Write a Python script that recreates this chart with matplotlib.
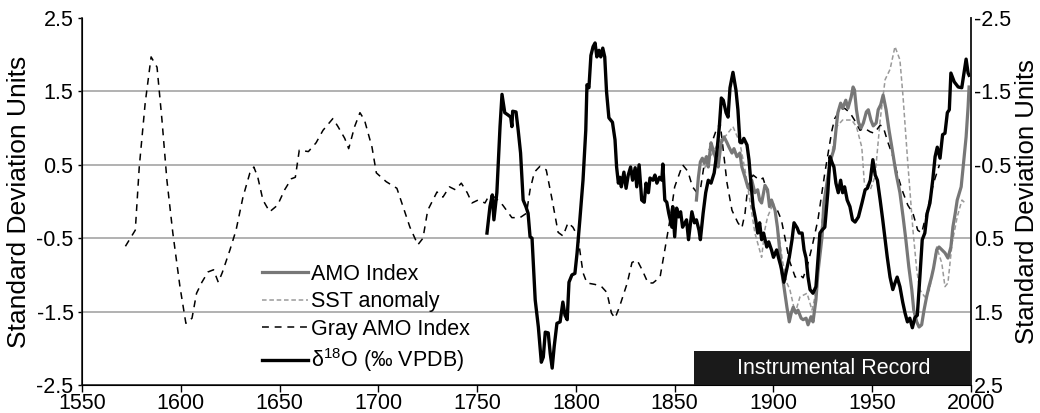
import numpy as np
import matplotlib
matplotlib.use("Agg")
import matplotlib.pyplot as plt

# Values (left axis units, standard deviations)

gray_amo_years = [1572, 1577, 1579, 1582, 1585, 1588, 1590.5, 1593, 1596, 1599.6, 1602.6, 1605.7,
                  1608, 1610.7, 1613.8, 1616.6, 1619, 1621, 1624.9, 1628, 1631.5, 1635, 1637, 1639,
                  1641.6, 1645, 1649, 1652.6, 1656, 1658, 1660, 1664.6, 1668.5, 1672, 1677, 1679.6,
                  1683, 1685, 1688, 1690.7, 1693, 1696.8, 1699, 1704, 1709.4, 1712.5, 1716, 1720,
                  1722.6, 1725, 1729.7, 1732.7, 1736, 1739, 1742, 1745, 1747.4, 1750.5, 1754, 1755.6,
                  1759, 1763, 1767.6, 1771.7, 1775, 1776.8, 1779, 1781.8, 1785, 1788, 1791, 1793.5,
                  1796, 1798.5, 1801, 1803.6, 1805.6, 1809.7, 1813, 1815.7, 1818, 1819.8, 1822, 1826,
                  1828.4, 1831, 1833.5, 1836.5, 1839, 1842.6, 1845, 1847.6, 1850, 1854, 1856.7, 1859,
                  1861, 1863, 1865, 1868, 1871, 1873, 1874.6, 1876.5, 1879, 1882, 1884, 1885.6, 1887,
                  1889.7, 1893, 1894.7, 1897, 1899.8, 1902, 1904, 1906, 1908, 1911, 1913.4, 1915,
                  1917, 1919.5, 1922.5, 1926, 1929.6, 1931, 1933.7, 1936, 1938.7, 1941, 1943.8, 1946,
                  1948.9, 1951, 1954, 1955.5, 1958, 1960.5, 1963, 1965.6, 1968, 1970.6, 1973, 1975,
                  1978, 1981, 1984]
gray_amo_vals = [-0.61, -0.39, 0.47, 1.34, 1.97, 1.83, 1.11, 0.29, -0.43, -1.16, -1.66, -1.59,
                 -1.25, -1.10, -0.96, -0.93, -1.10, -0.97, -0.66, -0.39, 0.06, 0.39, 0.47, 0.33,
                 0.02, -0.14, -0.05, 0.16, 0.31, 0.33, 0.70, 0.68, 0.80, 0.97, 1.13, 1.02,
                 0.86, 0.72, 1.02, 1.21, 1.11, 0.74, 0.39, 0.27, 0.18, -0.07, -0.35, -0.59,
                 -0.50, -0.12, 0.13, 0.06, 0.20, 0.16, 0.25, 0.12, -0.02, 0.02, -0.02, 0.06,
                 0.06, -0.05, -0.22, -0.22, -0.16, 0.16, 0.40, 0.48, 0.43, 0.02, -0.42, -0.47,
                 -0.29, -0.35, -0.48, -0.97, -1.11, -1.13, -1.16, -1.24, -1.52, -1.59, -1.44, -1.11,
                 -0.83, -0.80, -0.93, -1.11, -1.11, -1.03, -0.66, -0.25, 0.20, 0.50, 0.41, 0.20,
                 0.13, 0.16, 0.52, 0.74, 0.97, 1.07, 0.70, 0.25, -0.12, -0.29, -0.36, -0.16, 0.20,
                 0.36, 0.29, 0.32, 0.12, -0.07, -0.12, -0.25, -0.52, -0.80, -1.03, -1.00, -1.04,
                 -0.89, -0.62, -0.25, 0.39, 0.97, 1.13, 1.25, 1.27, 1.21, 1.11, 0.97, 1.00,
                 0.95, 0.93, 1.04, 1.02, 0.80, 0.61, 0.34, 0.12, -0.05, -0.16, -0.39, -0.43,
                 -0.10, 0.25, 0.50]

d18o_years = [1755, 1756.5, 1757.7, 1758.5, 1760, 1760.7, 1761.6, 1762.6, 1764, 1765.6, 1767,
              1767.6, 1768, 1769.7, 1770.8, 1772, 1773.3, 1774.7, 1775.8, 1776.8, 1777.8, 1779.4,
              1781, 1782.5, 1783.5, 1784.5, 1786, 1787, 1788, 1789, 1790.4, 1792, 1793.4, 1794.5,
              1795.6, 1796.5, 1798, 1799.5, 1800.6, 1802, 1803.6, 1805, 1805.6, 1806.6, 1807.6,
              1808.7, 1809.7, 1810.6, 1811.7, 1812.6, 1813.6, 1814.6, 1815.5, 1816.7, 1818.5,
              1819.8, 1820.6, 1821.5, 1822.3, 1823, 1824.3, 1825.4, 1826.5, 1827.7, 1828.7, 1830,
              1830.8, 1832, 1833.3, 1834.6, 1835.5, 1836.7, 1837.5, 1839, 1840, 1841, 1842.3,
              1843.5, 1844, 1845, 1846, 1847, 1848.6, 1849, 1850, 1851, 1852, 1853, 1854, 1856,
              1857, 1858.7, 1860, 1861, 1862.3, 1863, 1864.4, 1865.7, 1867, 1868.4, 1870, 1871.3,
              1872.6, 1873.6, 1874.6, 1876, 1877, 1878, 1879.5, 1881, 1882, 1883, 1884, 1885,
              1886.6, 1887.6, 1888.6, 1889.7, 1891, 1892, 1893, 1894, 1895, 1896.6, 1897.6, 1899,
              1900, 1901.6, 1902.6, 1904, 1905.3, 1906.8, 1908, 1909.4, 1910.4, 1912, 1913, 1914.5,
              1915.5, 1916.5, 1917.5, 1918.5, 1920, 1921.5, 1922.5, 1923.5, 1924.6, 1926, 1927.5,
              1928.6, 1929.8, 1930.6, 1931.6, 1932.8, 1934, 1935, 1936, 1937.3, 1938.7, 1940,
              1941.3, 1943, 1944.8, 1946.4, 1947.5, 1949, 1950.3, 1951.5, 1952.6, 1954, 1955.3,
              1956.5, 1957.6, 1959, 1960.4, 1961.5, 1962.6, 1964, 1965.4, 1966.6, 1967.8, 1969,
              1970.3, 1971.6, 1972.8, 1974, 1975.3, 1976.6, 1977.8, 1979.2, 1980.6, 1981.8, 1982.9,
              1984.3, 1985.6, 1986.8, 1988, 1989, 1989.8, 1991.5, 1993.5, 1995.3, 1996.5, 1997.5,
              1998.5, 1999]
d18o_vals = [-0.43, -0.07, 0.09, -0.25, 0.12, 0.52, 1.02, 1.46, 1.21, 1.18, 1.15,
             1.02, 1.23, 1.22, 0.97, 0.66, 0.02, -0.07, -0.16, -0.48, -0.50, -1.34,
             -1.71, -2.19, -2.12, -1.78, -1.79, -2.07, -2.27, -1.98, -1.66, -1.64, -1.37, -1.55,
             -1.61, -1.10, -1.00, -0.98, -0.70, -0.25, 0.29, 0.97, 1.59, 1.55, 1.99,
             2.11, 2.16, 1.97, 2.06, 1.97, 2.09, 1.97, 1.50, 1.14, 1.08,
             0.84, 0.47, 0.25, 0.33, 0.20, 0.40, 0.18, 0.36, 0.47, 0.29, 0.46,
             0.20, 0.50, 0.02, -0.01, 0.25, 0.12, 0.32, 0.29, 0.36, 0.25, 0.33,
             0.29, 0.51, 0.02, -0.01, -0.16, -0.35, -0.07, -0.48, -0.09, -0.21, -0.14, -0.35, -0.25,
             -0.52, -0.14, -0.29, -0.25, -0.39, -0.52, -0.16, 0.12, 0.29, 0.25, 0.39, 0.66,
             1.02, 1.41, 1.38, 1.21, 1.15, 1.55, 1.76, 1.52, 1.25, 0.81, 0.80, 0.86,
             0.77, 0.57, 0.25, -0.07, -0.25, -0.43, -0.29, -0.52, -0.43, -0.62, -0.55, -0.66,
             -0.76, -0.66, -0.77, -0.91, -1.10, -0.91, -0.76, -0.52, -0.29, -0.36, -0.43, -0.43,
             -0.66, -0.77, -1.03, -1.20, -1.25, -1.16, -0.80, -0.43, -0.39, -0.35, 0.12,
             0.61, 0.52, 0.47, 0.25, 0.12, 0.29, 0.12, 0.20, 0.02, -0.07, -0.25,
             -0.28, -0.21, -0.02, 0.16, 0.18, 0.29, 0.57, 0.36, 0.29, 0.02, -0.25,
             -0.52, -0.76, -1.03, -1.20, -1.11, -1.03, -1.16, -1.37, -1.52, -1.64, -1.59,
             -1.72, -1.58, -1.55, -1.07, -0.52, -0.43, -0.16, -0.02, 0.29, 0.61, 0.74,
             0.59, 0.91, 0.93, 1.21, 1.25, 1.75, 1.63, 1.56, 1.55, 1.76, 1.94,
             1.75, 1.72]

amo_years = [1861, 1862, 1863, 1864, 1865, 1866, 1867, 1868.4, 1869.5, 1871, 1872, 1873.5, 1875,
             1876.5, 1877.5, 1879, 1880, 1881.5, 1883, 1884, 1885.6, 1887, 1888, 1889, 1890.6,
             1892, 1893, 1894, 1895.7, 1897, 1898, 1899, 1900.8, 1902, 1903, 1904, 1905.3, 1906.8,
             1908, 1909, 1910, 1911.4, 1912.4, 1914, 1915, 1916.5, 1917.5, 1919, 1920, 1921.5,
             1922.5, 1924.6, 1925.5, 1927.5, 1929, 1930.7, 1931.8, 1932.6, 1934, 1935, 1936.6,
             1937.7, 1939.3, 1940.3, 1941, 1942, 1943, 1944.3, 1945.5, 1947, 1948, 1949.3, 1950.5,
             1952, 1953, 1954.3, 1955.5, 1957, 1958.5, 1960.4, 1962, 1964, 1965.6, 1967, 1968.5,
             1970, 1971, 1972.5, 1973.7, 1975, 1976.2, 1977.5, 1978.7, 1980, 1981, 1982.6, 1983.8,
             1985.3, 1986.8, 1988.3, 1989.8, 1990.8, 1992, 1993, 1995, 1996, 1997.5, 1998.5, 1999]
amo_vals = [0.02, 0.33, 0.54, 0.59, 0.52, 0.61, 0.47, 0.80, 0.70, 0.57, 0.47, 0.80, 0.88,
            0.80, 0.74, 0.66, 0.72, 0.61, 0.66, 0.47, 0.33, 0.20, 0.16, 0.29, 0.12,
            0.16, 0.02, -0.02, 0.22, 0.16, -0.07, 0.02, -0.12, -0.35, -0.62, -0.93, -1.16, -1.44,
            -1.64, -1.52, -1.44, -1.52, -1.48, -1.59, -1.61, -1.59, -1.68, -1.57, -1.64, -1.34,
            -0.97, -0.48, -0.02, 0.33, 0.57, 0.72, 1.02, 1.21, 1.34, 1.27, 1.38,
            1.27, 1.42, 1.56, 1.52, 1.25, 1.08, 1.00, 1.07, 1.22, 1.25, 1.11, 1.03,
            1.07, 1.25, 1.32, 1.45, 1.25, 0.97, 0.66, 0.39, 0.12, -0.21, -0.52, -0.89,
            -1.20, -1.48, -1.64, -1.71, -1.68, -1.48, -1.30, -1.16, -1.03, -0.91, -0.66, -0.62,
            -0.66, -0.70, -0.77, -0.62, -0.35, -0.16, 0.02, 0.20, 0.47, 0.88, 1.29, 1.56]

sst_years = [1865, 1868, 1870, 1873, 1876, 1879.5, 1883, 1885.6, 1888, 1890.6, 1894, 1895.6,
             1897, 1900, 1902, 1904.8, 1906.8, 1908.3, 1911, 1913.4, 1917, 1919.5, 1921,
             1922.5, 1925, 1928.6, 1932, 1935, 1939.6, 1942, 1944.7, 1946, 1949, 1951.4, 1954,
             1956.5, 1959, 1961.5, 1964, 1965.6, 1968, 1970.6, 1972.5, 1974, 1976.6, 1979,
             1982.6, 1985.2, 1986.8, 1988.3, 1990.4, 1993, 1995.4, 1997]
sst_vals = [0.45, 0.60, 0.70, 0.84, 0.90, 1.02, 0.80, 0.43, 0.02, -0.43, -0.76, -0.39,
            -0.21, -0.02, -0.35, -0.84, -1.11, -1.20, -1.52, -1.30, -1.25, -1.48, -1.30,
            -0.84, -0.16, 0.52, 1.02, 1.11, 1.11, 1.02, 0.74, 0.25, 0.16, 0.34, 1.11,
            1.66, 1.80, 2.11, 1.93, 1.42, 0.52, -0.39, -0.93, -1.20, -1.30, -1.20,
            -0.62, -0.84, -1.16, -1.11, -0.57, -0.21, 0.02, -0.02]

labels = ["AMO Index", "SST anomaly", "Gray AMO Index", "δ$^{18}$O (‰ VPDB)"]
y_ticks = [-2.5, -1.5, -0.5, 0.5, 1.5, 2.5]
x_ticks = list(range(1550, 2001, 50))
instrumental_start = 1860
instrumental_top = -2.04

plt.rcParams['font.family'] = ['Liberation Sans', 'DejaVu Sans']
plt.rcParams['mathtext.default'] = 'regular'
plt.rcParams['axes.unicode_minus'] = False

fig = plt.figure(figsize=(10.4, 4.13), dpi=100)
ax = fig.add_axes([0.0788, 0.0678, 0.8549, 0.8886])

for yv in y_ticks[1:-1]:
    ax.axhline(yv, color='#ababab', lw=1.3, zorder=1)

l_gray, = ax.plot(gray_amo_years, gray_amo_vals, color='black', lw=1.1,
                  linestyle=(0, (4.5, 3.8)), zorder=3)
l_sst, = ax.plot(sst_years, sst_vals, color='#9a9a9a', lw=1.1,
                 linestyle=(0, (3, 1.8)), zorder=2)
l_amo, = ax.plot(amo_years, amo_vals, color='#777777', lw=2.3, zorder=4)
l_d18o, = ax.plot(d18o_years, d18o_vals, color='black', lw=2.4, zorder=5)

# Instrumental record bar
ax.fill_between([instrumental_start, 2000], -2.5, instrumental_top, color='#1a1a1a',
                lw=0, zorder=6)
ax.text((instrumental_start + 2000) / 2 + 0.5, (instrumental_top - 2.5) / 2,
        "Instrumental Record", color='white', fontsize=15.5, ha='center', va='center', zorder=7)

ax.set_xlim(1550, 2000)
ax.set_ylim(-2.5, 2.5)
ax.set_xticks(x_ticks)
ax.set_yticks(y_ticks)
ax.set_yticklabels([f"{v:g}" for v in y_ticks])
ax.tick_params(axis='x', labelsize=15.5, length=5, width=1, pad=1)
ax.tick_params(axis='y', labelsize=15.5, length=3, width=1, pad=3)
ax.set_ylabel("Standard Deviation Units", fontsize=19, labelpad=4)
ax.spines['top'].set_visible(False)
for s in ['left', 'bottom', 'right']:
    ax.spines[s].set_linewidth(1.2)
    ax.spines[s].set_color('#222222')

ax2 = ax.twinx()
ax2.set_ylim(2.5, -2.5)
ax2.set_yticks(y_ticks)
ax2.set_yticklabels([f"{v:g}" for v in y_ticks])
ax2.tick_params(axis='y', labelsize=15.5, length=0, pad=2)
ax2.set_ylabel("Standard Deviation Units", fontsize=18.5, labelpad=3)
ax2.spines['top'].set_visible(False)
ax2.spines['right'].set_linewidth(1.2)
ax2.spines['right'].set_color('#222222')

ax.legend([l_amo, l_sst, l_gray, l_d18o], labels, loc='upper left',
          bbox_to_anchor=(0.203, 0.33), frameon=False, fontsize=15.5,
          handlelength=2.1, handletextpad=0.15, labelspacing=0.3, borderpad=0,
          borderaxespad=0)

fig.savefig("out.png", dpi=100)
